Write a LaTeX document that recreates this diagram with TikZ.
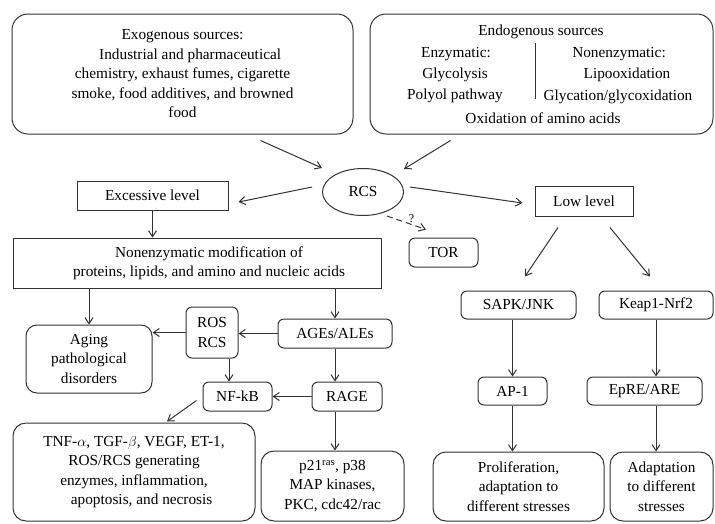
\documentclass[tikz,border=0pt]{standalone}
\usepackage{fontspec}
\setmainfont{Liberation Serif}
\usetikzlibrary{arrows.meta,shapes.geometric,calc}

\begin{document}
\begin{tikzpicture}[x=1pt,y=-1pt,>={Straight Barb[length=6pt,width=8pt]},
  font=\fontsize{15.3}{19.5}\selectfont,
  box/.style={draw=black!80,line width=1pt,align=center,inner sep=2pt},
  rbox/.style={box,rounded corners=6pt},
  bigbox/.style={box,rounded corners=16pt},
  txt/.style={inner sep=0pt},
  arr/.style={->,draw=black!80,line width=1pt}]
\useasboundingbox (0,0) rectangle (715,523);
% sources
\node[bigbox,minimum width=341pt,minimum height=120pt] (Exo) at (182.5,74) {Exogenous sources:\\ \quad Industrial and pharmaceutical\\ chemistry, exhaust fumes, cigarette\\ smoke, food additives, and browned\\ food};
\node[bigbox,minimum width=343pt,minimum height=120pt] (Endo) at (541.5,74) {};
\node[txt] (endoT) at (541,32) {Endogenous sources};
\node[txt] (enzT) at (456,54) {Enzymatic:};
\node[txt] (glyT) at (455,75) {Glycolysis};
\node[txt] (polT) at (455,96) {Polyol pathway};
\node[txt] (nonT) at (619,54) {Nonenzymatic:};
\node[txt] (lipT) at (627,75) {Lipooxidation};
\node[txt] (gcxT) at (618,97) {Glycation/glycoxidation};
\node[txt] (oxT) at (543,118) {Oxidation of amino acids};
\coordinate (divT) at (535,43);
\coordinate (divB) at (535,99);
\draw[line width=1pt,black!80] (divT) -- (divB);
% RCS and levels
\node[ellipse,draw=black!80,line width=1pt,minimum width=81pt,minimum height=47pt,inner sep=0pt] (RCS) at (363,192) {RCS};
\node[box,minimum width=151pt,minimum height=29pt] (Exc) at (152.5,195.5) {Excessive level};
\node[box,minimum width=98pt,minimum height=30pt] (Low) at (584,201) {Low level};
\node[rbox,minimum width=69pt,minimum height=29pt] (TOR) at (443.5,252.5) {TOR};
\node[box,minimum width=368pt,minimum height=50pt] (Mod) at (197,263) {\hspace*{24pt}Nonenzymatic modification of\\ \hspace*{24pt}proteins, lipids, and amino and nucleic acids};
% left branch
\node[rbox,rounded corners=11pt,minimum width=126pt,minimum height=68pt] (Aging) at (89,359) {Aging\\ pathological\\ disorders};
\node[rbox,minimum width=52pt,minimum height=51pt] (ROS) at (212,332.5) {ROS\\ RCS};
\node[rbox,minimum width=69pt,minimum height=29pt] (NFkB) at (237.5,396.5) {NF-kB};
\node[rbox,minimum width=114pt,minimum height=29pt] (AGEs) at (335,333.5) {AGEs/ALEs};
\node[rbox,minimum width=70pt,minimum height=29pt] (RAGE) at (347,396.5) {RAGE};
\node[rbox,rounded corners=13pt,minimum width=143pt,minimum height=70pt] (p21) at (332.5,486) {p21\textsuperscript{ras}, p38\\ MAP kinases,\\ PKC, cdc42/rac};
\node[rbox,rounded corners=13pt,minimum width=242pt,minimum height=98pt] (TNF) at (134,472) {TNF-$\alpha$, TGF-$\beta$, VEGF, ET-1,\\ ROS/RCS generating\\ enzymes, inflammation,\\ \quad apoptosis, and necrosis};
% right branch
\node[rbox,minimum width=115pt,minimum height=28pt] (SAPK) at (518.5,305) {SAPK/JNK};
\node[rbox,minimum width=114pt,minimum height=28pt] (Keap) at (656,305) {Keap1-Nrf2};
\node[rbox,minimum width=69pt,minimum height=28pt] (AP1) at (512.5,391) {AP-1};
\node[rbox,minimum width=115pt,minimum height=28pt] (EpRE) at (644.5,391) {EpRE/ARE};
\node[rbox,rounded corners=13pt,minimum width=171pt,minimum height=69pt] (Prolif) at (518.5,486.5) {Proliferation,\\ adaptation to\\ different stresses};
\node[rbox,rounded corners=13pt,minimum width=103pt,minimum height=69pt] (Adapt) at (661.5,486.5) {Adaptation\\ to different\\ stresses};
% arrows
\draw[arr] ($(Exo.south)+(78,6)$) -- ($(RCS.center)+(-41,-24)$);
\draw[arr] ($(Endo.south)+(-91,6)$) -- ($(RCS.center)+(41,-23)$);
\draw[arr] ($(RCS.center)+(-51,-5)$) -- ($(Exc.east)+(10,6.5)$);
\draw[arr] ($(RCS.center)+(47,-5)$) -- ($(Low.west)+(-12,2)$);
\draw[arr,dash pattern=on 6pt off 4pt] ($(RCS.center)+(24,24)$) -- node[pos=0.55,above right,font=\fontsize{12}{14}\selectfont,inner sep=0pt] (qm) {?} ($(TOR.north)+(-17.5,-8)$);
\draw[arr] (Exc.south) -- (Exc.south |- Mod.north);
\draw[arr] (Aging.north |- Mod.south) -- (Aging.north);
\draw[arr] (AGEs.north |- Mod.south) -- (AGEs.north);
\draw[arr] (AGEs.west) -- (AGEs.west -| ROS.east);
\draw[arr] (ROS.west) -- (ROS.west -| Aging.east);
\draw[arr] ($(ROS.south)+(17,0)$) -- ($(ROS.south |- NFkB.north)+(17,0)$);
\draw[arr] (AGEs.south) -- (AGEs.south |- RAGE.north);
\draw[arr] (RAGE.west) -- (NFkB.east);
\draw[arr] (AGEs.south |- RAGE.south) -- (AGEs.south |- p21.north);
\draw[arr] ($(NFkB.west)+(-6,4)$) -- ($(TNF.north)+(33,-1)$);
\draw[arr] ($(Low.south)+(-26,11)$) -- ($(SAPK.north)+(6.5,-14)$);
\draw[arr] ($(Low.south)+(26,11)$) -- ($(Keap.north)+(-6,-14)$);
\draw[arr] (AP1.north |- SAPK.south) -- (AP1.north);
\draw[arr] (AP1.south) -- (AP1.south |- Prolif.north);
\draw[arr] (Keap.south) -- (Keap.south |- EpRE.north);
\draw[arr] (Keap.south |- EpRE.south) -- (Keap.south |- Adapt.north);
\end{tikzpicture}
\end{document}
